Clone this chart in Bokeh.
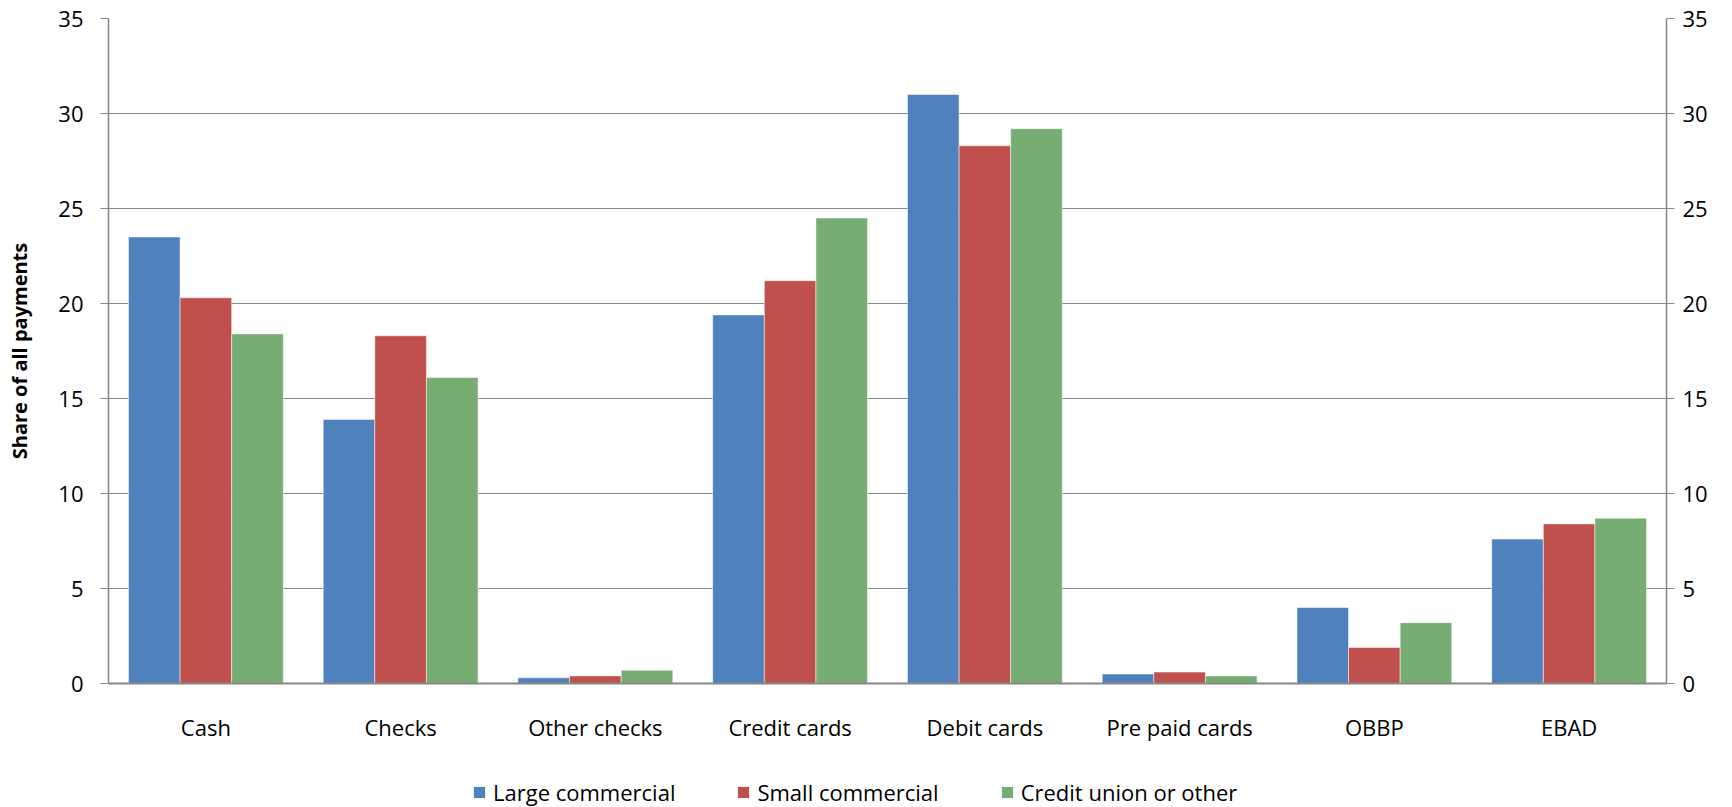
from bokeh.plotting import figure
from bokeh.layouts import column
from bokeh.models import ColumnDataSource, Range1d, FactorRange, LinearAxis, Legend, LegendItem, FixedTicker
from bokeh.transform import dodge
from bokeh.embed import file_html
from bokeh.resources import INLINE

categories = ["Cash", "Checks", "Other checks", "Credit cards", "Debit cards", "Pre paid cards", "OBBP", "EBAD"]
large_commercial = [23.5, 13.9, 0.3, 19.4, 31.0, 0.5, 4.0, 7.6]
small_commercial = [20.3, 18.3, 0.4, 21.2, 28.3, 0.6, 1.9, 8.4]
credit_union = [18.4, 16.1, 0.7, 24.5, 29.2, 0.4, 3.2, 8.7]
series_names = ["Large commercial", "Small commercial", "Credit union or other"]
y_ticks = [0, 5, 10, 15, 20, 25, 30, 35]

FONT = "Open Sans"
GRAY = "#878787"
colors = ["#4F81BD", "#C0504D", "#77AC72"]

src = ColumnDataSource(dict(cat=categories, a=large_commercial, b=small_commercial, c=credit_union))

p = figure(x_range=FactorRange(*categories, range_padding=0), y_range=Range1d(0, 35),
           width=1732, height=745, output_backend="svg", toolbar_location=None,
           min_border_left=108, min_border_right=66, min_border_top=18, min_border_bottom=62)
p.outline_line_color = None
p.background_fill_color = "white"
p.border_fill_color = "white"

w = 0.265
for key, off, col in zip(["a", "b", "c"], [-w, 0, w], colors):
    p.vbar(x=dodge("cat", off, range=p.x_range), top=key, width=w, source=src,
           fill_color=col, line_color="white", line_alpha=0.5, line_width=1)

# grid
p.xgrid.grid_line_color = None
p.ygrid.grid_line_color = GRAY
p.ygrid.grid_line_width = 1
p.ygrid.ticker = FixedTicker(ticks=y_ticks)

# left axis
ya = p.yaxis[0]
ya.ticker = FixedTicker(ticks=y_ticks)
ya.axis_line_color = GRAY
ya.axis_line_width = 1.5
ya.major_tick_line_color = GRAY
ya.major_tick_out = 8
ya.major_tick_in = 0
ya.minor_tick_line_color = None
ya.major_label_text_font = FONT
ya.major_label_text_font_size = "22px"
ya.major_label_text_color = "black"
ya.major_label_standoff = 17
ya.axis_label = "Share of all payments"
ya.axis_label_text_font = FONT
ya.axis_label_text_font_size = "20px"
ya.axis_label_text_font_style = "bold"
ya.axis_label_text_color = "black"
ya.axis_label_standoff = 22

# right axis
ra = LinearAxis(ticker=FixedTicker(ticks=y_ticks))
ra.axis_line_color = GRAY
ra.axis_line_width = 1.5
ra.major_tick_line_color = GRAY
ra.major_tick_out = 8
ra.major_tick_in = 0
ra.minor_tick_line_color = None
ra.major_label_text_font = FONT
ra.major_label_text_font_size = "22px"
ra.major_label_text_color = "black"
ra.major_label_standoff = 8
p.add_layout(ra, "right")

# x axis
xa = p.xaxis[0]
xa.axis_line_color = GRAY
xa.axis_line_width = 2
xa.major_tick_line_color = None
xa.minor_tick_line_color = None
xa.major_label_text_font = FONT
xa.major_label_text_font_size = "22px"
xa.major_label_text_color = "black"
xa.major_label_standoff = 22

# legend strip below the chart (proxy bars lie outside its visible range)
lg = figure(width=1732, height=62, x_range=Range1d(0, 1), y_range=Range1d(0, 1),
            output_backend="svg", toolbar_location=None,
            min_border_left=0, min_border_right=0, min_border_top=0, min_border_bottom=0)
lg.axis.visible = False
lg.grid.grid_line_color = None
lg.outline_line_color = None
proxy = ColumnDataSource(dict(x=[-10.0], top=[-10.0]))
lrs = [lg.vbar(x="x", top="top", bottom=-11.0, width=0.1, source=proxy, fill_color=c, line_color=None)
       for c in colors]
legend = Legend(items=[LegendItem(label=n, renderers=[r]) for n, r in zip(series_names, lrs)],
                orientation="horizontal", location=(364, 0))
legend.label_text_font = FONT
legend.label_text_font_size = "22px"
legend.label_text_color = "black"
legend.glyph_width = 14
legend.glyph_height = 14
legend.spacing = 61
legend.label_standoff = 7
legend.border_line_color = None
legend.background_fill_alpha = 0
legend.padding = 0
legend.margin = 0
lg.add_layout(legend, "center")

layout = column(p, lg, spacing=0)
open("out.html", "w").write(file_html(layout, INLINE))
